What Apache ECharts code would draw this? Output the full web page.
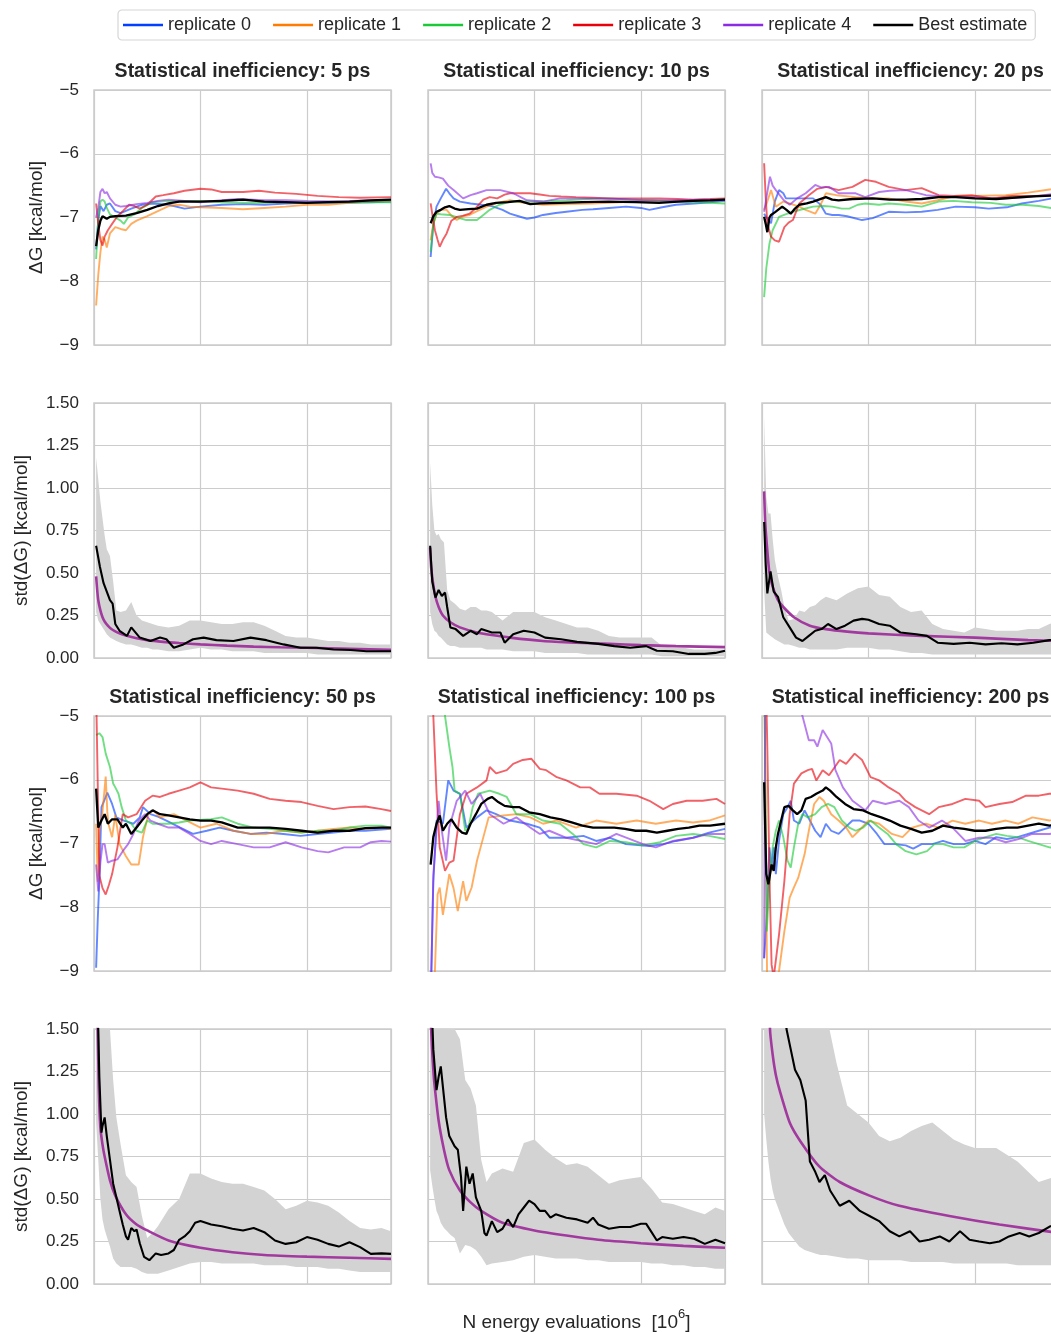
<!DOCTYPE html>
<html><head><meta charset="utf-8">
<script src="https://cdn.jsdelivr.net/npm/echarts/dist/echarts.min.js"></script>
<style>html,body{margin:0;padding:0;background:#fff}#c{width:1051px;height:1332px}</style>
</head><body><div id="c"></div><script>
// ---------------- DATA ----------------
const REP_NAMES = ['replicate 0','replicate 1','replicate 2','replicate 3','replicate 4'];
const BEST_NAME = 'Best estimate';
const SI_LABELS = ['5','10','20','50','100','200'];
const X_MAX = 2.79;
const DG_TICKS = [-9,-8,-7,-6,-5];
const SD_TICKS = [0,0.25,0.5,0.75,1.0,1.25,1.5];
const X_LABEL = 'N energy evaluations  [10';
const X_LABEL_SUP = '6';

// --- ΔG, 5 ps ---
const dg5_r0 = [[0.02,-7.5],[0.04,-7.05],[0.06,-6.82],[0.09,-6.9],[0.12,-6.8],[0.15,-6.78],[0.2,-6.9],[0.25,-6.93],[0.35,-6.86],[0.45,-6.8],[0.55,-6.78],[0.7,-6.8],[0.85,-6.86],[1.0,-6.83],[1.2,-6.8],[1.4,-6.79],[1.6,-6.8],[1.8,-6.78],[2.0,-6.77],[2.3,-6.77],[2.6,-6.76],[2.79,-6.75]];
const dg5_r1 = [[0.02,-8.38],[0.04,-7.9],[0.06,-7.55],[0.08,-7.3],[0.1,-7.35],[0.12,-7.47],[0.15,-7.25],[0.2,-7.15],[0.25,-7.18],[0.3,-7.2],[0.35,-7.1],[0.4,-7.05],[0.5,-6.98],[0.6,-6.9],[0.7,-6.82],[0.8,-6.8],[0.9,-6.83],[1.0,-6.84],[1.2,-6.85],[1.4,-6.87],[1.6,-6.85],[1.8,-6.83],[2.0,-6.8],[2.2,-6.8],[2.4,-6.77],[2.6,-6.75],[2.79,-6.74]];
const dg5_r2 = [[0.02,-7.65],[0.04,-7.0],[0.06,-6.75],[0.08,-6.72],[0.1,-6.75],[0.12,-6.85],[0.15,-6.95],[0.2,-7.0],[0.25,-7.05],[0.28,-7.1],[0.32,-7.0],[0.38,-6.95],[0.45,-6.85],[0.55,-6.76],[0.7,-6.74],[0.85,-6.74],[1.0,-6.74],[1.2,-6.76],[1.5,-6.77],[1.8,-6.76],[2.1,-6.76],[2.4,-6.76],[2.79,-6.76]];
const dg5_r3 = [[0.02,-6.78],[0.04,-7.1],[0.06,-7.35],[0.08,-7.44],[0.1,-7.3],[0.13,-7.2],[0.17,-7.1],[0.22,-6.98],[0.27,-6.9],[0.33,-6.8],[0.38,-6.82],[0.43,-6.86],[0.5,-6.8],[0.58,-6.67],[0.65,-6.65],[0.75,-6.62],[0.85,-6.58],[1.0,-6.55],[1.1,-6.56],[1.2,-6.6],[1.4,-6.6],[1.55,-6.58],[1.7,-6.61],[1.9,-6.63],[2.1,-6.66],[2.3,-6.68],[2.5,-6.69],[2.79,-6.68]];
const dg5_r4 = [[0.02,-7.0],[0.04,-6.85],[0.06,-6.6],[0.08,-6.55],[0.1,-6.62],[0.12,-6.6],[0.15,-6.7],[0.2,-6.8],[0.25,-6.83],[0.3,-6.82],[0.4,-6.79],[0.5,-6.77],[0.6,-6.74],[0.7,-6.72],[0.85,-6.74],[1.0,-6.76],[1.2,-6.73],[1.35,-6.71],[1.6,-6.73],[1.8,-6.73],[2.0,-6.74],[2.3,-6.75],[2.6,-6.73],[2.79,-6.72]];
const dg5_best = [[0.02,-7.45],[0.04,-7.2],[0.06,-7.05],[0.08,-6.98],[0.1,-7.0],[0.12,-7.02],[0.15,-6.99],[0.2,-6.98],[0.3,-6.97],[0.4,-6.93],[0.5,-6.88],[0.6,-6.82],[0.7,-6.78],[0.8,-6.75],[1.0,-6.75],[1.2,-6.74],[1.4,-6.72],[1.6,-6.75],[1.8,-6.76],[2.0,-6.77],[2.2,-6.76],[2.4,-6.75],[2.6,-6.73],[2.79,-6.72]];

// --- ΔG, 10 ps ---
const dg10_r0 = [[0.025,-7.62],[0.05,-7.1],[0.08,-6.83],[0.12,-6.7],[0.17,-6.55],[0.2,-6.62],[0.24,-6.7],[0.3,-6.75],[0.4,-6.78],[0.5,-6.8],[0.6,-6.82],[0.7,-6.88],[0.77,-6.94],[0.85,-6.98],[0.93,-7.02],[1.0,-7.0],[1.08,-6.96],[1.2,-6.93],[1.3,-6.91],[1.45,-6.88],[1.55,-6.87],[1.7,-6.85],[1.86,-6.83],[2.0,-6.85],[2.08,-6.88],[2.2,-6.84],[2.33,-6.8],[2.5,-6.78],[2.65,-6.76],[2.79,-6.74]];
const dg10_r1 = [[0.025,-7.36],[0.05,-7.1],[0.08,-6.94],[0.12,-6.88],[0.175,-6.88],[0.22,-6.97],[0.27,-7.04],[0.33,-6.98],[0.39,-6.96],[0.46,-6.9],[0.55,-6.83],[0.65,-6.77],[0.77,-6.73],[0.9,-6.77],[1.08,-6.8],[1.3,-6.79],[1.55,-6.78],[1.8,-6.76],[2.02,-6.75],[2.3,-6.74],[2.55,-6.73],[2.79,-6.72]];
const dg10_r2 = [[0.025,-7.54],[0.05,-7.1],[0.08,-6.94],[0.12,-6.95],[0.2,-6.96],[0.28,-7.0],[0.36,-7.04],[0.46,-7.04],[0.52,-6.96],[0.58,-6.88],[0.67,-6.8],[0.77,-6.75],[0.9,-6.75],[1.08,-6.75],[1.3,-6.73],[1.5,-6.71],[1.7,-6.7],[1.9,-6.72],[2.1,-6.73],[2.33,-6.75],[2.55,-6.76],[2.79,-6.78]];
const dg10_r3 = [[0.025,-6.78],[0.045,-7.0],[0.065,-7.2],[0.09,-7.35],[0.11,-7.46],[0.14,-7.35],[0.175,-7.25],[0.22,-7.05],[0.27,-6.99],[0.33,-6.97],[0.39,-6.94],[0.45,-6.85],[0.52,-6.72],[0.58,-6.68],[0.65,-6.7],[0.72,-6.64],[0.77,-6.62],[0.86,-6.62],[0.96,-6.62],[1.05,-6.64],[1.14,-6.66],[1.25,-6.67],[1.39,-6.68],[1.55,-6.69],[1.7,-6.7],[1.9,-6.7],[2.17,-6.7],[2.35,-6.71],[2.49,-6.72],[2.65,-6.71],[2.79,-6.7]];
const dg10_r4 = [[0.025,-6.15],[0.04,-6.3],[0.065,-6.36],[0.1,-6.37],[0.14,-6.39],[0.19,-6.5],[0.24,-6.57],[0.33,-6.7],[0.4,-6.65],[0.46,-6.62],[0.55,-6.57],[0.68,-6.57],[0.8,-6.62],[0.93,-6.73],[1.08,-6.75],[1.24,-6.7],[1.4,-6.7],[1.55,-6.7],[1.8,-6.71],[2.02,-6.73],[2.33,-6.73],[2.55,-6.72],[2.79,-6.72]];
const dg10_best = [[0.025,-7.09],[0.05,-6.98],[0.08,-6.91],[0.12,-6.88],[0.16,-6.84],[0.2,-6.82],[0.25,-6.86],[0.3,-6.88],[0.38,-6.87],[0.46,-6.86],[0.55,-6.8],[0.64,-6.77],[0.75,-6.76],[0.86,-6.74],[0.96,-6.79],[1.05,-6.78],[1.24,-6.77],[1.45,-6.76],[1.7,-6.75],[1.95,-6.76],[2.17,-6.77],[2.35,-6.75],[2.49,-6.74],[2.65,-6.73],[2.79,-6.72]];

// --- ΔG, 20 ps ---
const dg20_r0 = [[0.02,-6.94],[0.05,-7.02],[0.085,-7.09],[0.12,-6.75],[0.16,-6.57],[0.2,-6.62],[0.225,-6.7],[0.3,-6.7],[0.4,-6.7],[0.48,-6.7],[0.55,-6.8],[0.6,-6.94],[0.66,-6.96],[0.72,-6.96],[0.8,-6.98],[0.94,-7.04],[1.04,-7.01],[1.19,-6.91],[1.35,-6.92],[1.5,-6.91],[1.65,-6.88],[1.82,-6.83],[2.0,-6.84],[2.13,-6.86],[2.3,-6.84],[2.44,-6.78],[2.6,-6.74],[2.79,-6.68]];
const dg20_r1 = [[0.02,-6.88],[0.05,-6.75],[0.085,-6.57],[0.13,-6.83],[0.2,-6.75],[0.26,-6.78],[0.35,-6.83],[0.41,-6.88],[0.5,-6.94],[0.55,-6.8],[0.6,-6.62],[0.7,-6.65],[0.88,-6.68],[1.05,-6.7],[1.19,-6.7],[1.35,-6.75],[1.5,-6.78],[1.65,-6.73],[1.82,-6.66],[2.0,-6.66],[2.29,-6.65],[2.5,-6.61],[2.7,-6.56],[2.79,-6.55]];
const dg20_r2 = [[0.02,-8.25],[0.04,-7.8],[0.07,-7.41],[0.1,-7.2],[0.16,-6.99],[0.22,-6.95],[0.29,-6.91],[0.38,-6.87],[0.48,-6.83],[0.58,-6.82],[0.66,-6.83],[0.75,-6.86],[0.82,-6.86],[0.9,-6.8],[0.97,-6.78],[1.1,-6.8],[1.19,-6.78],[1.35,-6.8],[1.5,-6.83],[1.66,-6.75],[1.8,-6.74],[1.97,-6.76],[2.15,-6.77],[2.29,-6.8],[2.45,-6.8],[2.6,-6.82],[2.79,-6.87]];
const dg20_r3 = [[0.02,-6.15],[0.035,-6.7],[0.05,-7.09],[0.085,-7.3],[0.12,-7.36],[0.16,-7.38],[0.21,-7.15],[0.25,-7.08],[0.29,-7.04],[0.35,-6.78],[0.44,-6.65],[0.52,-6.55],[0.6,-6.52],[0.72,-6.57],[0.85,-6.52],[0.97,-6.41],[1.07,-6.44],[1.19,-6.52],[1.35,-6.57],[1.5,-6.54],[1.66,-6.65],[1.8,-6.66],[1.97,-6.65],[2.16,-6.7],[2.35,-6.66],[2.55,-6.66],[2.79,-6.65]];
const dg20_r4 = [[0.02,-6.91],[0.05,-6.6],[0.075,-6.36],[0.1,-6.5],[0.13,-6.57],[0.2,-6.72],[0.26,-6.8],[0.33,-6.7],[0.41,-6.62],[0.5,-6.49],[0.56,-6.53],[0.63,-6.52],[0.72,-6.62],[0.88,-6.62],[0.97,-6.68],[1.1,-6.6],[1.2,-6.58],[1.35,-6.57],[1.54,-6.65],[1.7,-6.67],[1.97,-6.68],[2.13,-6.7],[2.29,-6.7],[2.5,-6.68],[2.79,-6.62]];
const dg20_best = [[0.02,-6.99],[0.035,-7.1],[0.05,-7.23],[0.07,-7.0],[0.085,-6.96],[0.12,-6.92],[0.19,-6.83],[0.23,-6.88],[0.27,-6.94],[0.31,-6.86],[0.35,-6.8],[0.42,-6.78],[0.48,-6.75],[0.6,-6.68],[0.66,-6.72],[0.72,-6.73],[0.85,-6.71],[1.04,-6.7],[1.2,-6.72],[1.35,-6.72],[1.5,-6.71],[1.66,-6.68],[1.82,-6.68],[2.0,-6.7],[2.2,-6.71],[2.35,-6.69],[2.55,-6.67],[2.79,-6.65]];

// --- ΔG, 50 ps ---
const dg50_r0 = [[0.02,-8.95],[0.035,-8.2],[0.05,-7.59],[0.07,-6.43],[0.09,-6.35],[0.11,-6.27],[0.125,-6.2],[0.15,-6.3],[0.17,-6.38],[0.21,-6.59],[0.28,-6.64],[0.37,-6.69],[0.43,-6.59],[0.46,-6.43],[0.53,-6.54],[0.6,-6.58],[0.68,-6.64],[0.81,-6.75],[0.93,-6.85],[1.06,-6.8],[1.18,-6.75],[1.31,-6.8],[1.47,-6.85],[1.62,-6.83],[1.78,-6.85],[1.94,-6.88],[2.1,-6.85],[2.25,-6.83],[2.4,-6.8],[2.55,-6.8],[2.7,-6.78],[2.79,-6.77]];
const dg50_r1 = [[0.02,-6.69],[0.035,-7.6],[0.05,-6.8],[0.08,-6.5],[0.11,-5.95],[0.125,-6.5],[0.135,-6.69],[0.17,-6.9],[0.2,-6.55],[0.24,-7.01],[0.3,-7.2],[0.35,-7.33],[0.42,-7.33],[0.46,-6.9],[0.51,-6.54],[0.56,-6.48],[0.62,-6.59],[0.75,-6.54],[0.87,-6.64],[1.0,-6.75],[1.15,-6.69],[1.31,-6.8],[1.47,-6.85],[1.62,-6.85],[1.78,-6.8],[1.94,-6.83],[2.1,-6.8],[2.25,-6.77],[2.4,-6.75],[2.55,-6.77],[2.7,-6.75],[2.79,-6.77]];
const dg50_r2 = [[0.02,-5.3],[0.05,-5.27],[0.08,-5.33],[0.11,-5.59],[0.15,-5.8],[0.18,-6.06],[0.2,-6.12],[0.23,-6.22],[0.26,-6.43],[0.3,-6.64],[0.35,-6.69],[0.4,-6.8],[0.45,-6.83],[0.5,-6.64],[0.55,-6.69],[0.7,-6.69],[0.8,-6.67],[0.9,-6.64],[1.1,-6.62],[1.2,-6.59],[1.35,-6.69],[1.5,-6.75],[1.65,-6.77],[1.8,-6.8],[1.95,-6.83],[2.1,-6.8],[2.25,-6.8],[2.4,-6.75],[2.55,-6.72],[2.7,-6.72],[2.79,-6.75]];
const dg50_r3 = [[0.02,-4.6],[0.05,-7.5],[0.08,-7.7],[0.11,-7.8],[0.14,-7.65],[0.17,-7.48],[0.22,-7.06],[0.27,-6.54],[0.32,-6.59],[0.4,-6.54],[0.48,-6.33],[0.55,-6.25],[0.62,-6.27],[0.7,-6.22],[0.8,-6.17],[0.9,-6.12],[1.0,-6.04],[1.1,-6.12],[1.2,-6.14],[1.35,-6.17],[1.5,-6.22],[1.65,-6.3],[1.8,-6.33],[1.95,-6.35],[2.1,-6.41],[2.25,-6.46],[2.4,-6.43],[2.55,-6.42],[2.7,-6.46],[2.79,-6.49]];
const dg50_r4 = [[0.02,-7.33],[0.04,-7.75],[0.06,-7.3],[0.08,-7.01],[0.1,-7.01],[0.13,-7.3],[0.17,-7.27],[0.22,-7.25],[0.27,-7.12],[0.32,-7.01],[0.37,-6.85],[0.42,-6.64],[0.48,-6.54],[0.53,-6.64],[0.6,-6.69],[0.7,-6.75],[0.8,-6.75],[0.9,-6.85],[1.0,-6.96],[1.1,-7.01],[1.2,-6.96],[1.35,-7.01],[1.5,-7.06],[1.65,-7.06],[1.8,-6.98],[1.95,-7.06],[2.1,-7.12],[2.2,-7.14],[2.35,-7.06],[2.5,-7.06],[2.6,-6.98],[2.7,-6.96],[2.79,-6.97]];
const dg50_best = [[0.02,-6.14],[0.04,-6.75],[0.07,-6.64],[0.1,-6.54],[0.13,-6.69],[0.17,-6.62],[0.22,-6.62],[0.27,-6.75],[0.3,-6.69],[0.35,-6.85],[0.4,-6.75],[0.45,-6.64],[0.5,-6.54],[0.55,-6.48],[0.62,-6.54],[0.7,-6.56],[0.8,-6.59],[0.9,-6.62],[1.0,-6.64],[1.1,-6.64],[1.2,-6.67],[1.35,-6.75],[1.5,-6.75],[1.65,-6.75],[1.8,-6.77],[1.95,-6.8],[2.1,-6.83],[2.25,-6.8],[2.4,-6.8],[2.55,-6.76],[2.7,-6.75],[2.79,-6.75]];

// --- ΔG, 100 ps ---
const dg100_r0 = [[0.025,-9.5],[0.05,-7.6],[0.08,-6.64],[0.14,-6.69],[0.19,-6.01],[0.24,-6.17],[0.3,-6.22],[0.36,-6.75],[0.46,-6.59],[0.55,-6.48],[0.64,-6.54],[0.77,-6.64],[0.93,-6.69],[1.05,-6.75],[1.14,-6.91],[1.3,-6.91],[1.46,-6.88],[1.58,-6.96],[1.71,-6.91],[1.86,-7.01],[2.08,-7.04],[2.21,-7.01],[2.33,-6.96],[2.49,-6.91],[2.64,-6.83],[2.79,-6.77]];
const dg100_r1 = [[0.025,-10.5],[0.065,-9.0],[0.09,-7.8],[0.11,-7.69],[0.14,-8.12],[0.17,-7.8],[0.2,-7.48],[0.24,-7.7],[0.28,-8.06],[0.33,-7.59],[0.36,-7.9],[0.41,-7.69],[0.46,-7.27],[0.52,-6.9],[0.57,-6.59],[0.71,-6.56],[0.83,-6.54],[0.96,-6.59],[1.08,-6.69],[1.21,-6.64],[1.39,-6.75],[1.58,-6.64],[1.77,-6.69],[1.96,-6.64],[2.14,-6.69],[2.33,-6.64],[2.49,-6.67],[2.64,-6.64],[2.79,-6.56]];
const dg100_r2 = [[0.02,-3.0],[0.08,-4.0],[0.13,-4.6],[0.16,-5.0],[0.2,-5.48],[0.23,-5.8],[0.25,-6.17],[0.3,-6.22],[0.35,-6.8],[0.38,-6.75],[0.42,-6.43],[0.47,-6.22],[0.58,-6.17],[0.67,-6.22],[0.74,-6.27],[0.83,-6.54],[0.96,-6.54],[1.08,-6.64],[1.24,-6.69],[1.36,-6.85],[1.46,-7.01],[1.58,-7.06],[1.71,-6.96],[1.86,-6.98],[2.02,-7.03],[2.18,-6.98],[2.33,-6.88],[2.49,-6.85],[2.64,-6.88],[2.79,-6.93]];
const dg100_r3 = [[0.02,-3.5],[0.05,-5.0],[0.08,-6.2],[0.11,-7.06],[0.16,-7.43],[0.2,-7.3],[0.24,-7.27],[0.3,-6.54],[0.36,-6.22],[0.46,-6.12],[0.55,-6.01],[0.58,-5.8],[0.64,-5.9],[0.74,-5.85],[0.8,-5.75],[0.89,-5.69],[0.97,-5.67],[1.05,-5.83],[1.11,-5.85],[1.21,-5.96],[1.3,-6.01],[1.43,-6.12],[1.52,-6.12],[1.61,-6.22],[1.77,-6.22],[1.96,-6.25],[2.08,-6.33],[2.21,-6.46],[2.3,-6.38],[2.43,-6.33],[2.58,-6.33],[2.71,-6.3],[2.79,-6.38]];
const dg100_r4 = [[0.025,-9.5],[0.05,-7.5],[0.1,-6.33],[0.13,-6.8],[0.17,-7.27],[0.2,-6.75],[0.27,-6.33],[0.35,-6.17],[0.41,-6.38],[0.49,-6.22],[0.58,-6.54],[0.71,-6.69],[0.83,-6.59],[0.96,-6.75],[1.05,-6.85],[1.14,-6.8],[1.3,-6.91],[1.58,-7.01],[1.77,-6.85],[2.02,-7.01],[2.14,-7.06],[2.3,-6.96],[2.49,-6.91],[2.64,-6.85],[2.79,-6.85]];
const dg100_best = [[0.025,-7.33],[0.05,-6.9],[0.08,-6.69],[0.11,-6.56],[0.14,-6.8],[0.18,-6.69],[0.22,-6.62],[0.27,-6.75],[0.32,-6.83],[0.36,-6.85],[0.4,-6.69],[0.45,-6.54],[0.5,-6.38],[0.56,-6.3],[0.6,-6.27],[0.66,-6.35],[0.72,-6.41],[0.8,-6.43],[0.86,-6.43],[0.95,-6.51],[1.05,-6.54],[1.15,-6.59],[1.25,-6.62],[1.35,-6.67],[1.45,-6.72],[1.55,-6.75],[1.65,-6.75],[1.75,-6.75],[1.85,-6.77],[1.95,-6.8],[2.05,-6.8],[2.15,-6.83],[2.25,-6.8],[2.35,-6.77],[2.45,-6.75],[2.55,-6.72],[2.65,-6.72],[2.79,-6.69]];

// --- ΔG, 200 ps ---
const dg200_r0 = [[0.02,-8.8],[0.05,-8.0],[0.07,-7.06],[0.09,-7.38],[0.11,-7.06],[0.13,-7.48],[0.16,-6.96],[0.2,-6.54],[0.24,-6.43],[0.27,-6.33],[0.3,-6.64],[0.35,-6.69],[0.4,-6.48],[0.45,-6.64],[0.5,-6.8],[0.55,-6.9],[0.6,-6.69],[0.65,-6.8],[0.72,-6.85],[0.78,-6.75],[0.85,-6.64],[0.92,-6.64],[1.0,-6.69],[1.08,-6.85],[1.15,-7.01],[1.25,-7.01],[1.35,-7.03],[1.42,-7.08],[1.5,-7.01],[1.6,-7.01],[1.7,-6.96],[1.8,-7.01],[1.9,-7.01],[2.0,-6.96],[2.1,-7.01],[2.2,-6.9],[2.3,-6.93],[2.4,-6.9],[2.5,-6.85],[2.6,-6.8],[2.7,-6.75],[2.79,-6.74]];
const dg200_r1 = [[0.02,-4.0],[0.05,-9.5],[0.1,-9.6],[0.16,-9.0],[0.21,-8.38],[0.26,-7.85],[0.3,-7.69],[0.34,-7.54],[0.4,-7.17],[0.44,-6.8],[0.49,-6.38],[0.54,-6.27],[0.58,-6.33],[0.65,-6.54],[0.72,-6.64],[0.79,-6.75],[0.85,-6.9],[0.91,-6.8],[1.0,-6.64],[1.1,-6.69],[1.22,-6.85],[1.32,-6.9],[1.41,-6.75],[1.54,-6.69],[1.66,-6.75],[1.79,-6.64],[1.91,-6.69],[2.04,-6.64],[2.16,-6.69],[2.29,-6.64],[2.41,-6.69],[2.54,-6.59],[2.7,-6.64],[2.79,-6.6]];
const dg200_r2 = [[0.02,-4.0],[0.045,-8.38],[0.07,-7.59],[0.1,-7.06],[0.13,-6.8],[0.16,-6.64],[0.2,-6.9],[0.24,-7.27],[0.27,-7.38],[0.3,-7.06],[0.34,-6.69],[0.38,-6.54],[0.43,-6.59],[0.5,-6.54],[0.56,-6.43],[0.62,-6.38],[0.68,-6.43],[0.75,-6.64],[0.82,-6.75],[0.88,-6.8],[0.95,-6.75],[1.02,-6.64],[1.1,-6.75],[1.18,-6.85],[1.26,-7.01],[1.35,-7.12],[1.45,-7.17],[1.55,-7.12],[1.62,-7.01],[1.7,-7.01],[1.8,-7.06],[1.9,-7.06],[2.0,-6.96],[2.1,-6.9],[2.2,-6.85],[2.3,-6.88],[2.4,-6.9],[2.5,-6.96],[2.6,-7.01],[2.7,-7.06],[2.79,-7.07]];
const dg200_r3 = [[0.02,-3.0],[0.05,-5.5],[0.07,-7.5],[0.09,-8.9],[0.11,-9.1],[0.16,-8.43],[0.21,-7.59],[0.26,-6.54],[0.3,-6.06],[0.37,-5.9],[0.43,-5.85],[0.47,-5.83],[0.51,-6.01],[0.57,-5.85],[0.63,-5.93],[0.73,-5.69],[0.79,-5.75],[0.87,-5.59],[0.94,-5.69],[1.02,-5.96],[1.1,-6.01],[1.19,-6.12],[1.29,-6.22],[1.35,-6.33],[1.44,-6.43],[1.57,-6.54],[1.66,-6.43],[1.79,-6.38],[1.91,-6.3],[2.04,-6.33],[2.1,-6.43],[2.23,-6.38],[2.35,-6.35],[2.48,-6.25],[2.6,-6.25],[2.7,-6.22],[2.79,-6.22]];
const dg200_r4 = [[0.02,-8.8],[0.035,-3.0],[0.1,-3.5],[0.2,-4.0],[0.3,-4.6],[0.38,-5.0],[0.44,-5.38],[0.49,-5.38],[0.52,-5.48],[0.57,-5.22],[0.65,-5.43],[0.69,-5.85],[0.76,-6.12],[0.85,-6.33],[0.97,-6.48],[1.04,-6.33],[1.16,-6.38],[1.29,-6.33],[1.38,-6.43],[1.47,-6.64],[1.57,-6.75],[1.69,-6.64],[1.79,-6.75],[1.91,-6.96],[2.04,-6.91],[2.16,-6.91],[2.29,-6.98],[2.41,-6.93],[2.54,-6.85],[2.7,-6.85],[2.79,-6.83]];
const dg200_best = [[0.02,-6.04],[0.04,-7.48],[0.06,-7.64],[0.09,-7.33],[0.11,-7.43],[0.13,-7.06],[0.15,-6.85],[0.18,-6.64],[0.21,-6.43],[0.25,-6.41],[0.29,-6.48],[0.33,-6.54],[0.37,-6.48],[0.41,-6.3],[0.46,-6.27],[0.51,-6.22],[0.57,-6.17],[0.6,-6.12],[0.64,-6.17],[0.7,-6.27],[0.78,-6.38],[0.86,-6.46],[0.95,-6.48],[1.03,-6.54],[1.12,-6.59],[1.2,-6.64],[1.3,-6.72],[1.4,-6.77],[1.5,-6.83],[1.6,-6.8],[1.7,-6.72],[1.8,-6.75],[1.9,-6.77],[2.0,-6.8],[2.1,-6.8],[2.2,-6.77],[2.3,-6.75],[2.4,-6.75],[2.5,-6.72],[2.6,-6.69],[2.7,-6.72],[2.79,-6.69]];

// --- std(ΔG): shared x grid for the bands ---
const BAND_X = [0.02,0.04,0.06,0.08,0.10,0.12,0.15,0.18,0.21,0.25,0.30,0.35,0.40,0.45,0.50,0.55,0.60,0.70,0.80,0.90,1.00,1.10,1.20,1.30,1.40,1.50,1.60,1.70,1.80,1.90,2.00,2.10,2.20,2.30,2.40,2.50,2.60,2.70,2.79];

const sd5_hi = [1.18,1.05,0.92,0.82,0.72,0.64,0.6,0.45,0.28,0.27,0.28,0.33,0.25,0.22,0.21,0.2,0.19,0.18,0.19,0.22,0.22,0.21,0.2,0.2,0.21,0.21,0.19,0.16,0.13,0.12,0.12,0.11,0.1,0.1,0.09,0.09,0.08,0.08,0.08];
const sd5_lo = [0.27,0.22,0.2,0.18,0.16,0.14,0.12,0.11,0.1,0.09,0.08,0.08,0.07,0.06,0.06,0.05,0.05,0.04,0.04,0.05,0.06,0.05,0.05,0.04,0.04,0.04,0.03,0.03,0.03,0.03,0.03,0.02,0.02,0.02,0.02,0.02,0.02,0.02,0.02];
const sd5_best = [[0.02,0.66],[0.056,0.535],[0.09,0.44],[0.12,0.39],[0.15,0.34],[0.175,0.32],[0.2,0.2],[0.24,0.16],[0.31,0.13],[0.35,0.18],[0.43,0.12],[0.53,0.1],[0.62,0.12],[0.68,0.11],[0.75,0.06],[0.84,0.08],[0.93,0.11],[1.03,0.12],[1.15,0.105],[1.31,0.1],[1.47,0.12],[1.62,0.105],[1.78,0.08],[1.94,0.06],[2.09,0.06],[2.25,0.05],[2.41,0.047],[2.56,0.04],[2.79,0.04]];
const sd5_fit = [[0.02,0.48],[0.03,0.4],[0.04,0.34],[0.06,0.28],[0.08,0.24],[0.1,0.215],[0.13,0.19],[0.16,0.172],[0.2,0.157],[0.25,0.143],[0.3,0.132],[0.4,0.116],[0.5,0.105],[0.65,0.095],[0.8,0.088],[1.0,0.08],[1.25,0.073],[1.5,0.067],[1.75,0.063],[2.0,0.06],[2.4,0.054],[2.79,0.048]];

const sd10_hi = [1.15,0.9,0.75,0.72,0.73,0.7,0.68,0.4,0.34,0.32,0.29,0.28,0.3,0.3,0.28,0.28,0.27,0.22,0.27,0.27,0.27,0.24,0.22,0.2,0.18,0.18,0.16,0.13,0.12,0.12,0.12,0.12,0.07,0.06,0.06,0.05,0.05,0.05,0.05];
const sd10_lo = [0.27,0.2,0.16,0.15,0.13,0.12,0.1,0.08,0.07,0.07,0.06,0.06,0.06,0.06,0.06,0.05,0.05,0.05,0.04,0.04,0.04,0.03,0.03,0.03,0.03,0.02,0.02,0.02,0.02,0.02,0.02,0.02,0.01,0.01,0.01,0.01,0.01,0.01,0.01];
const sd10_best = [[0.02,0.66],[0.04,0.45],[0.07,0.355],[0.1,0.4],[0.13,0.365],[0.16,0.385],[0.18,0.3],[0.21,0.18],[0.26,0.17],[0.33,0.13],[0.4,0.16],[0.46,0.14],[0.5,0.17],[0.6,0.15],[0.68,0.15],[0.72,0.09],[0.8,0.14],[0.9,0.16],[1.0,0.15],[1.1,0.12],[1.25,0.11],[1.4,0.095],[1.6,0.083],[1.75,0.07],[1.9,0.06],[2.05,0.07],[2.15,0.043],[2.3,0.04],[2.45,0.024],[2.6,0.024],[2.7,0.03],[2.79,0.043]];
const sd10_fit = [[0.02,0.65],[0.03,0.53],[0.05,0.43],[0.07,0.36],[0.1,0.3],[0.14,0.25],[0.21,0.21],[0.3,0.18],[0.46,0.15],[0.6,0.135],[0.77,0.12],[1.08,0.1],[1.39,0.09],[1.7,0.083],[2.0,0.076],[2.33,0.07],[2.79,0.064]];

const sd20_hi = [1.42,0.95,0.85,0.85,0.7,0.58,0.48,0.4,0.3,0.22,0.23,0.28,0.27,0.3,0.31,0.34,0.36,0.34,0.38,0.41,0.42,0.37,0.36,0.3,0.27,0.28,0.2,0.17,0.16,0.15,0.18,0.17,0.16,0.16,0.16,0.17,0.17,0.2,0.22];
const sd20_lo = [0.4,0.15,0.14,0.13,0.12,0.11,0.1,0.09,0.08,0.08,0.07,0.06,0.06,0.05,0.05,0.05,0.05,0.05,0.06,0.06,0.06,0.05,0.05,0.04,0.03,0.03,0.02,0.02,0.02,0.02,0.02,0.02,0.02,0.02,0.02,0.02,0.02,0.02,0.02];
const sd20_best = [[0.02,0.8],[0.035,0.55],[0.05,0.38],[0.08,0.51],[0.11,0.39],[0.15,0.36],[0.2,0.24],[0.26,0.18],[0.32,0.12],[0.38,0.1],[0.44,0.13],[0.5,0.16],[0.56,0.17],[0.62,0.2],[0.7,0.17],[0.78,0.19],[0.86,0.22],[0.94,0.23],[1.0,0.225],[1.1,0.2],[1.2,0.19],[1.3,0.15],[1.45,0.14],[1.55,0.13],[1.65,0.09],[1.8,0.083],[1.95,0.09],[2.1,0.08],[2.25,0.087],[2.4,0.08],[2.55,0.09],[2.7,0.105],[2.79,0.11]];
const sd20_fit = [[0.02,0.98],[0.03,0.8],[0.05,0.63],[0.07,0.5],[0.1,0.42],[0.15,0.34],[0.2,0.3],[0.3,0.24],[0.45,0.19],[0.6,0.17],[0.8,0.155],[1.0,0.145],[1.5,0.13],[2.0,0.12],[2.5,0.105],[2.79,0.1]];

const sd50_hi = [2,2,2,1.9,1.8,1.7,1.5,1.2,0.98,0.82,0.64,0.6,0.57,0.4,0.27,0.3,0.34,0.44,0.5,0.65,0.65,0.62,0.6,0.59,0.59,0.57,0.55,0.5,0.44,0.46,0.49,0.48,0.46,0.42,0.37,0.33,0.32,0.33,0.31];
const sd50_lo = [0.95,0.73,0.5,0.38,0.32,0.28,0.22,0.15,0.12,0.1,0.1,0.1,0.09,0.07,0.06,0.06,0.06,0.08,0.1,0.12,0.13,0.13,0.12,0.12,0.12,0.12,0.11,0.11,0.11,0.1,0.1,0.1,0.09,0.09,0.08,0.07,0.07,0.07,0.07];
const sd50_best = [[0.02,1.8],[0.04,1.5],[0.05,1.22],[0.07,0.89],[0.08,0.93],[0.1,0.98],[0.12,0.87],[0.15,0.73],[0.18,0.59],[0.21,0.51],[0.24,0.43],[0.27,0.35],[0.3,0.28],[0.32,0.26],[0.35,0.33],[0.38,0.31],[0.4,0.32],[0.43,0.24],[0.47,0.16],[0.52,0.14],[0.58,0.18],[0.63,0.17],[0.7,0.18],[0.75,0.2],[0.8,0.26],[0.85,0.28],[0.9,0.31],[0.95,0.36],[1.0,0.37],[1.1,0.35],[1.2,0.34],[1.3,0.325],[1.4,0.315],[1.5,0.33],[1.6,0.305],[1.7,0.256],[1.8,0.236],[1.9,0.246],[2.0,0.276],[2.1,0.26],[2.2,0.236],[2.3,0.22],[2.4,0.246],[2.5,0.217],[2.6,0.177],[2.7,0.18],[2.79,0.177]];
const sd50_fit = [[0.02,1.9],[0.035,1.5],[0.045,1.15],[0.06,0.92],[0.08,0.82],[0.1,0.75],[0.15,0.61],[0.2,0.52],[0.3,0.41],[0.4,0.35],[0.5,0.315],[0.7,0.256],[1.0,0.213],[1.3,0.187],[1.6,0.171],[2.0,0.161],[2.4,0.154],[2.79,0.148]];

const sd100_hi = [2,2,2,2,1.95,1.9,1.8,1.7,1.6,1.5,1.44,1.2,1.15,1.05,0.73,0.6,0.65,0.68,0.66,0.83,0.85,0.79,0.74,0.7,0.71,0.69,0.64,0.59,0.61,0.62,0.63,0.56,0.48,0.47,0.45,0.43,0.41,0.45,0.43];
const sd100_lo = [0.67,0.58,0.5,0.43,0.4,0.36,0.33,0.31,0.29,0.27,0.18,0.23,0.22,0.2,0.16,0.11,0.12,0.13,0.14,0.16,0.17,0.16,0.15,0.15,0.15,0.14,0.14,0.13,0.13,0.13,0.13,0.12,0.12,0.11,0.11,0.1,0.1,0.09,0.09];
const sd100_best = [[0.02,2.0],[0.04,1.55],[0.05,1.38],[0.08,1.14],[0.1,1.22],[0.12,1.28],[0.14,1.16],[0.17,0.98],[0.2,0.87],[0.25,0.81],[0.28,0.79],[0.31,0.63],[0.33,0.43],[0.36,0.69],[0.39,0.59],[0.42,0.65],[0.45,0.51],[0.5,0.43],[0.53,0.3],[0.55,0.285],[0.6,0.37],[0.65,0.305],[0.7,0.325],[0.75,0.38],[0.8,0.335],[0.85,0.41],[0.9,0.45],[0.95,0.49],[1.0,0.47],[1.05,0.43],[1.1,0.43],[1.15,0.39],[1.2,0.41],[1.3,0.39],[1.4,0.38],[1.5,0.36],[1.55,0.39],[1.6,0.35],[1.7,0.325],[1.8,0.335],[1.9,0.335],[2.0,0.354],[2.05,0.354],[2.1,0.305],[2.15,0.256],[2.2,0.276],[2.3,0.266],[2.4,0.276],[2.5,0.266],[2.6,0.236],[2.7,0.26],[2.79,0.24]];
const sd100_fit = [[0.02,1.9],[0.03,1.5],[0.04,1.36],[0.05,1.26],[0.06,1.18],[0.1,0.96],[0.15,0.79],[0.2,0.67],[0.3,0.55],[0.4,0.48],[0.5,0.43],[0.7,0.36],[1.0,0.315],[1.3,0.285],[1.6,0.26],[2.0,0.24],[2.4,0.224],[2.79,0.213]];

const sd200_hi = [3,3,3,3,3,3,3,3,3,3,3,2.8,2.5,2.2,2.0,1.8,1.6,1.3,1.05,1.0,0.95,0.87,0.84,0.86,0.9,0.93,0.95,0.9,0.85,0.82,0.8,0.8,0.8,0.76,0.72,0.66,0.6,0.62,0.64];
const sd200_lo = [1.0,0.85,0.72,0.62,0.55,0.5,0.45,0.4,0.35,0.3,0.26,0.22,0.2,0.19,0.18,0.17,0.17,0.16,0.15,0.15,0.14,0.14,0.14,0.14,0.13,0.13,0.13,0.13,0.12,0.12,0.12,0.12,0.12,0.12,0.11,0.11,0.11,0.11,0.11];
const sd200_best = [[0.02,2.5],[0.15,2.0],[0.23,1.5],[0.27,1.38],[0.31,1.26],[0.36,1.2],[0.41,1.08],[0.45,0.72],[0.5,0.66],[0.54,0.6],[0.59,0.64],[0.64,0.55],[0.73,0.46],[0.82,0.49],[0.92,0.43],[1.01,0.4],[1.1,0.37],[1.2,0.31],[1.29,0.28],[1.39,0.31],[1.48,0.25],[1.57,0.26],[1.67,0.28],[1.76,0.25],[1.86,0.31],[1.95,0.26],[2.04,0.25],[2.14,0.24],[2.23,0.25],[2.32,0.28],[2.42,0.3],[2.51,0.28],[2.6,0.3],[2.71,0.34],[2.79,0.34]];
const sd200_fit = [[0.02,3.0],[0.075,1.5],[0.1,1.35],[0.13,1.23],[0.17,1.13],[0.26,0.95],[0.36,0.84],[0.54,0.69],[0.73,0.6],[1.01,0.52],[1.29,0.46],[1.76,0.4],[2.23,0.35],[2.79,0.3]];

// ---------------- STYLE / LAYOUT ----------------
const REP_COLORS = ['#023eff','#ff7c00','#1ac938','#e8000b','#8b2be2'];
const FIT_COLOR = '#a2399f';
const BAND_COLOR = '#d3d3d3';
const GRID_COLOR = '#cccccc';
const TEXT_COLOR = '#262626';
const FONT = '"Liberation Sans", Arial, Helvetica, sans-serif';
const COL_LEFT = [94, 428, 762];
const ROW_TOP = [90, 403, 716, 1029];
const PW = 297, PH = 255;

const dgPanels = [
  {row:0,col:0,si:0,reps:[dg5_r0,dg5_r1,dg5_r2,dg5_r3,dg5_r4],best:dg5_best},
  {row:0,col:1,si:1,reps:[dg10_r0,dg10_r1,dg10_r2,dg10_r3,dg10_r4],best:dg10_best},
  {row:0,col:2,si:2,reps:[dg20_r0,dg20_r1,dg20_r2,dg20_r3,dg20_r4],best:dg20_best},
  {row:2,col:0,si:3,reps:[dg50_r0,dg50_r1,dg50_r2,dg50_r3,dg50_r4],best:dg50_best},
  {row:2,col:1,si:4,reps:[dg100_r0,dg100_r1,dg100_r2,dg100_r3,dg100_r4],best:dg100_best},
  {row:2,col:2,si:5,reps:[dg200_r0,dg200_r1,dg200_r2,dg200_r3,dg200_r4],best:dg200_best}
];
const sdPanels = [
  {row:1,col:0,hi:sd5_hi,lo:sd5_lo,best:sd5_best,fit:sd5_fit},
  {row:1,col:1,hi:sd10_hi,lo:sd10_lo,best:sd10_best,fit:sd10_fit},
  {row:1,col:2,hi:sd20_hi,lo:sd20_lo,best:sd20_best,fit:sd20_fit},
  {row:3,col:0,hi:sd50_hi,lo:sd50_lo,best:sd50_best,fit:sd50_fit},
  {row:3,col:1,hi:sd100_hi,lo:sd100_lo,best:sd100_best,fit:sd100_fit},
  {row:3,col:2,hi:sd200_hi,lo:sd200_lo,best:sd200_best,fit:sd200_fit}
];

const grids = [], xAxes = [], yAxes = [], series = [], graphics = [];

function addPanel(row, col, kind) {
  const idx = grids.length;
  grids.push({left:COL_LEFT[col], top:ROW_TOP[row], width:PW, height:PH, show:true,
    borderColor:GRID_COLOR, borderWidth:1.5, backgroundColor:'rgba(0,0,0,0)',
    containLabel:false, outerBoundsMode:'none'});
  const xa = {gridIndex:idx, type:'value', min:0, max:X_MAX, interval:1,
    axisLabel:{show:false}, axisTick:{show:false}, axisLine:{show:false},
    splitLine:{show:true, lineStyle:{color:GRID_COLOR, width:1.2}}};
  if (row === 3 && col === 1) {
    xa.name = '{a|' + X_LABEL + '}{b|' + X_LABEL_SUP + '}{a|]}';
    xa.nameLocation = 'middle';
    xa.nameGap = 24;
    xa.nameTextStyle = {rich:{
      a:{fontSize:19, fontFamily:FONT, color:TEXT_COLOR, lineHeight:24, verticalAlign:'bottom'},
      b:{fontSize:13, fontFamily:FONT, color:TEXT_COLOR, lineHeight:17, verticalAlign:'top'}
    }};
  }
  xAxes.push(xa);
  const isDg = kind === 'dg';
  const ticks = isDg ? DG_TICKS : SD_TICKS;
  const ya = {gridIndex:idx, type:'value', min:ticks[0], max:ticks[ticks.length-1],
    interval: ticks[1]-ticks[0],
    axisTick:{show:false}, axisLine:{show:false},
    splitLine:{show:true, lineStyle:{color:GRID_COLOR, width:1.2}},
    axisLabel:{show: col === 0, margin:15, fontSize:17, fontFamily:FONT, color:TEXT_COLOR,
      formatter: isDg ? (v => v < 0 ? '\u2212' + Math.abs(v) : String(v)) : (v => v.toFixed(2))}};
  if (col === 0) {
    ya.name = isDg ? '\u0394G [kcal/mol]' : 'std(\u0394G) [kcal/mol]';
    ya.nameLocation = 'middle';
    ya.nameGap = isDg ? 48 : 63;
    ya.nameTextStyle = {fontSize:19, fontFamily:FONT, color:TEXT_COLOR};
  }
  yAxes.push(ya);
  return idx;
}

dgPanels.forEach(p => {
  const g = addPanel(p.row, p.col, 'dg');
  p.reps.forEach((d, k) => {
    series.push({name:REP_NAMES[k], type:'line', xAxisIndex:g, yAxisIndex:g, data:d,
      symbol:'none', showSymbol:false, clip:true, z:2, silent:true,
      itemStyle:{color:REP_COLORS[k]},
      lineStyle:{color:REP_COLORS[k], width:1.9, opacity:0.62}});
  });
  series.push({name:BEST_NAME, type:'line', xAxisIndex:g, yAxisIndex:g, data:p.best,
    symbol:'none', showSymbol:false, clip:true, z:4, silent:true,
    itemStyle:{color:'#000'}, lineStyle:{color:'#000', width:2.3}});
  graphics.push({type:'text', x: COL_LEFT[p.col] + PW/2, y: ROW_TOP[p.row] - 18, z:100,
    style:{text:'Statistical inefficiency: ' + SI_LABELS[p.si] + ' ps', fill:TEXT_COLOR,
      font:'bold 19.5px ' + FONT, align:'center', verticalAlign:'middle'}});
});

sdPanels.forEach(p => {
  const g = addPanel(p.row, p.col, 'sd');
  // shaded band between lo and hi, as one polygon through the axes' scales
  series.push({name:'band', type:'custom', xAxisIndex:g, yAxisIndex:g, z:1, silent:true, clip:true,
    data: BAND_X.map((x,i) => [x, p.lo[i], p.hi[i]]),
    encode:{x:0, y:[1,2]},
    renderItem: function(params, api) {
      if (params.dataIndex !== 0) return null;
      const pts = [];
      for (let i = 0; i < BAND_X.length; i++) pts.push(api.coord([BAND_X[i], p.hi[i]]));
      for (let i = BAND_X.length - 1; i >= 0; i--) pts.push(api.coord([BAND_X[i], p.lo[i]]));
      const cs = params.coordSys;
      return {type:'polygon', shape:{points:pts}, style:{fill:BAND_COLOR, stroke:null},
        clipPath:{type:'rect', shape:{x:cs.x, y:cs.y, width:cs.width, height:cs.height}}};
    }});
  series.push({name:'fit', type:'line', xAxisIndex:g, yAxisIndex:g, data:p.fit,
    symbol:'none', showSymbol:false, clip:true, z:3, silent:true, smooth:0.2,
    lineStyle:{color:FIT_COLOR, width:2.6}});
  series.push({name:BEST_NAME, type:'line', xAxisIndex:g, yAxisIndex:g, data:p.best,
    symbol:'none', showSymbol:false, clip:true, z:4, silent:true,
    itemStyle:{color:'#000'}, lineStyle:{color:'#000', width:2.1}});
});

const legendData = REP_NAMES.map((n,i) => ({name:n, itemStyle:{color:REP_COLORS[i], opacity:1}}))
  .concat([{name:BEST_NAME, itemStyle:{color:'#000', opacity:1}}]);

const chart = echarts.init(document.getElementById('c'), null, {renderer:'canvas'});
chart.setOption({
  animation:false,
  backgroundColor:'#ffffff',
  legend:{data:legendData, left:118, top:10, orient:'horizontal', icon:'rect',
    itemWidth:40, itemHeight:2.6, itemGap:22, padding:[6,8,6,5],
    borderColor:'#d6d6d6', borderWidth:1.2, borderRadius:4, backgroundColor:'#ffffff',
    selectedMode:false,
    textStyle:{fontSize:18, fontFamily:FONT, color:TEXT_COLOR}},
  grid:grids, xAxis:xAxes, yAxis:yAxes, series:series, graphic:graphics
});
</script></body></html>
